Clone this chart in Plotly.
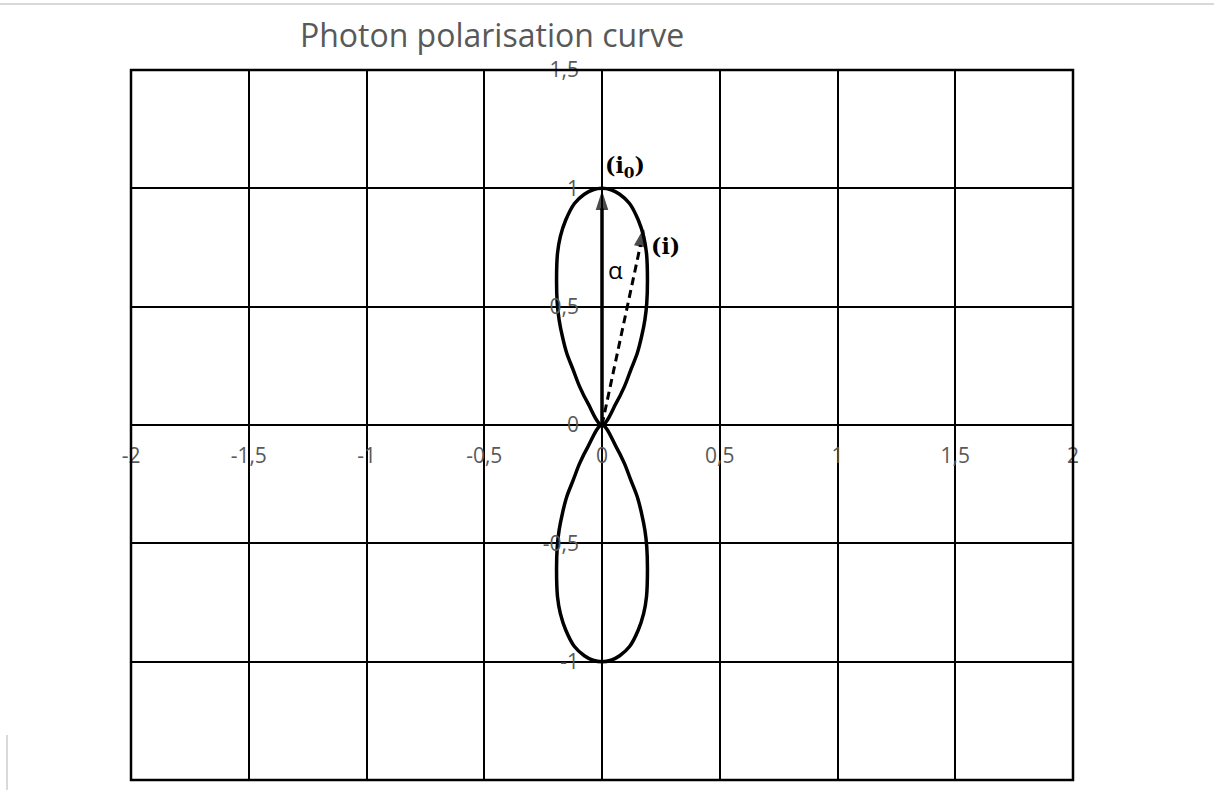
import plotly.graph_objects as go

# Axis ticks (decimal comma labels)
x_ticks = [-2, -1.5, -1, -0.5, 0, 0.5, 1, 1.5, 2]
x_tick_text = ["-2", "-1,5", "-1", "-0,5", "0", "0,5", "1", "1,5", "2"]
y_ticks = [-1.5, -1, -0.5, 0, 0.5, 1, 1.5]
y_tick_text = ["-1,5", "-1", "-0,5", "0", "0,5", "1", "1,5"]

# Upper lobe: origin -> right flank -> top -> left flank -> origin
upper_x = [0, 0.060, 0.095, 0.122, 0.150, 0.168, 0.182, 0.190, 0.193, 0.189, 0.177, 0.154, 0.117, 0.075, 0.038, 0,
           -0.038, -0.075, -0.117, -0.154, -0.177, -0.189, -0.193, -0.190, -0.182, -0.168, -0.150, -0.122, -0.095, -0.060, 0]
upper_y = [0, 0.092, 0.162, 0.232, 0.304, 0.373, 0.444, 0.514, 0.613, 0.725, 0.796, 0.866, 0.936, 0.975, 0.994, 1.0,
           0.994, 0.975, 0.936, 0.866, 0.796, 0.725, 0.613, 0.514, 0.444, 0.373, 0.304, 0.232, 0.162, 0.092, 0]

# Lower lobe: origin -> right flank -> bottom -> left flank -> origin
lower_x = [0, 0.060, 0.095, 0.122, 0.150, 0.168, 0.182, 0.190, 0.193, 0.189, 0.177, 0.154, 0.117, 0.075, 0.038, 0,
           -0.038, -0.075, -0.117, -0.154, -0.177, -0.189, -0.193, -0.190, -0.182, -0.168, -0.150, -0.122, -0.095, -0.060, 0]
lower_y = [0, -0.092, -0.162, -0.232, -0.304, -0.373, -0.444, -0.514, -0.613, -0.725, -0.796, -0.866, -0.936, -0.975, -0.994, -1.0,
           -0.994, -0.975, -0.936, -0.866, -0.796, -0.725, -0.613, -0.514, -0.444, -0.373, -0.304, -0.232, -0.162, -0.092, 0]

# Intensity vectors: i0 along the polarisation axis, i at angle alpha
i0_x = [0, 0]
i0_y = [0, 0.98]
i_x = [0, 0.177]
i_y = [0, 0.824]

GRAY = "#595959"
FONT = "Open Sans"

# Plot area in pixels
W, H = 1214, 790
L, R, T, B = 131, 1073, 70, 780


def px(xp):
    return (xp - L) / (R - L)


def py(yp):
    return (B - yp) / (B - T)


fig = go.Figure()

for lx, ly in ((upper_x, upper_y), (lower_x, lower_y)):
    fig.add_trace(go.Scatter(
        x=lx, y=ly, mode="lines",
        line=dict(color="black", width=3.5, shape="spline", smoothing=1.0),
        hoverinfo="skip", showlegend=False,
    ))

arrow_marker = dict(symbol="arrow", size=[0, 17], angleref="previous", color="black",
                    line=dict(color="black", width=1.5))

fig.add_trace(go.Scatter(
    x=i0_x, y=i0_y, mode="lines+markers",
    line=dict(color="black", width=3.5),
    marker=arrow_marker,
    hoverinfo="skip", showlegend=False,
))
fig.add_trace(go.Scatter(
    x=i_x, y=i_y, mode="lines+markers",
    line=dict(color="black", width=3, dash="8px,5px"),
    marker=arrow_marker,
    hoverinfo="skip", showlegend=False,
))

axis_common = dict(
    showgrid=True, gridcolor="black", gridwidth=2,
    zeroline=True, zerolinecolor="black", zerolinewidth=2,
    showline=False, ticks="", anchor="free", position=0.5,
    tickfont=dict(family=FONT, size=21, color=GRAY),
    fixedrange=True,
)

fig.update_layout(
    width=W, height=H,
    margin=dict(l=L, r=W - R, t=T, b=H - B),
    paper_bgcolor="white", plot_bgcolor="white",
    title=dict(
        text="Photon polarisation curve",
        font=dict(family=FONT, size=32, color=GRAY),
        xref="container", yref="container",
        x=492 / W, y=1 - 36 / H, xanchor="center", yanchor="middle",
    ),
    xaxis=dict(range=[-2, 2], tickvals=x_ticks, ticktext=x_tick_text,
               ticklabelstandoff=16, **axis_common),
    yaxis=dict(range=[-1.5, 1.5], tickvals=y_ticks, ticktext=y_tick_text,
               ticklabelstandoff=23, **axis_common),
    shapes=[
        dict(type="rect", xref="paper", yref="paper", x0=0, x1=1, y0=0, y1=1,
             line=dict(color="black", width=2.5)),
        dict(type="line", xref="paper", yref="paper",
             x0=px(0), x1=px(W), y0=py(4), y1=py(4),
             line=dict(color="#d9d9d9", width=2)),
        dict(type="line", xref="paper", yref="paper",
             x0=px(7), x1=px(7), y0=py(735), y1=py(H),
             line=dict(color="#d9d9d9", width=2)),
    ],
    annotations=[
        dict(x=0.099, y=1.09, xref="x", yref="y", showarrow=False,
             text="<b>(i<sub>0</sub>)</b>",
             font=dict(family="DejaVu Serif", size=22, color="black")),
        dict(x=0.269, y=0.756, xref="x", yref="y", showarrow=False,
             text="<b>(i)</b>",
             font=dict(family="DejaVu Serif", size=22, color="black")),
        dict(x=0.058, y=0.655, xref="x", yref="y", showarrow=False,
             text="α", font=dict(family=FONT, size=24, color="black")),
    ],
)

fig.write_html("out.html")
